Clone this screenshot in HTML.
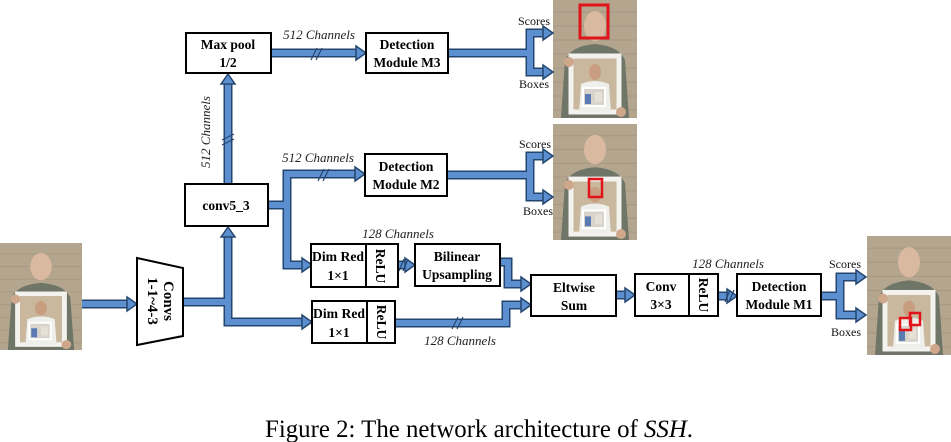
<!DOCTYPE html>
<html><head><meta charset="utf-8"><style>
html,body{margin:0;padding:0;background:#fff;}
svg{display:block;}
.b{font-family:"Liberation Serif",serif;font-weight:bold;font-size:13.5px;fill:#000;}
.i{font-family:"Liberation Serif",serif;font-style:italic;font-size:13px;fill:#222;}
.s{font-family:"Liberation Serif",serif;font-size:12px;fill:#111;}
.o{fill:none;stroke:#24466e;stroke-width:9;stroke-linejoin:miter;}
.f{fill:none;stroke:#5b8fcf;stroke-width:6;stroke-linejoin:miter;}
.h{fill:#5b8fcf;stroke:#24466e;stroke-width:1.5;}
.bx{fill:#fff;stroke:#000;stroke-width:2;}
.sl{stroke:#24466e;stroke-width:1.2;}
</style></head><body>
<svg width="951" height="442" viewBox="0 0 951 442" xmlns="http://www.w3.org/2000/svg">
<defs>
<symbol id="ph" viewBox="0 0 84 118" preserveAspectRatio="none">
<rect width="84" height="118" fill="#b3a58e"/>
<g stroke="#9e907a" stroke-width="1" opacity=".6"><path d="M0 12H84M0 26H84M0 40H84M0 54H84M0 68H84M0 82H84M0 96H84M0 110H84"/></g>
<path d="M8 118 L12 60 Q18 46 42 44 Q66 46 72 60 L76 118Z" fill="#6f7668"/>
<ellipse cx="42" cy="26" rx="11" ry="15" fill="#d9b9a0"/>
<rect x="18" y="56" width="48" height="56" fill="#c9b89e" stroke="#f4f2ee" stroke-width="5"/>
<path d="M26 112 L28 84 Q42 78 56 84 L58 112Z" fill="#eeeeea"/>
<ellipse cx="42" cy="72" rx="6" ry="8" fill="#c99e80"/>
<rect x="30" y="88" width="22" height="18" fill="#d8d4cc" stroke="#fff" stroke-width="2"/>
<rect x="32" y="94" width="6" height="10" fill="#5a7ab4"/>
<rect x="42" y="92" width="7" height="10" fill="#e6e0d6"/>
<circle cx="16" cy="62" r="5" fill="#cfa88c"/><circle cx="68" cy="112" r="5" fill="#cfa88c"/>
</symbol>
</defs>

<use href="#ph" x="0" y="243" width="82" height="107"/>
<use href="#ph" x="553" y="0" width="84" height="118"/>
<rect x="580" y="5" width="28" height="33" fill="none" stroke="#e0141a" stroke-width="3"/>
<use href="#ph" x="553" y="124" width="84" height="116"/>
<rect x="589" y="179" width="13" height="18" fill="none" stroke="#e0141a" stroke-width="2.5"/>
<use href="#ph" x="867" y="236" width="84" height="119"/>
<rect x="900" y="318" width="11" height="12" fill="none" stroke="#e0141a" stroke-width="2.5"/>
<rect x="910" y="313" width="10" height="12" fill="none" stroke="#e0141a" stroke-width="2.5"/>

<g>
<path class="o" d="M82 304H129"/><path class="f" d="M82 304H129"/>
<path class="o" d="M183 302H228M228 236V322H303"/><path class="f" d="M183 302H228M228 236V322H303"/>
<path class="o" d="M228 184V83"/><path class="f" d="M228 184V83"/>
<path class="o" d="M271 53H357"/><path class="f" d="M271 53H357"/>
<path class="o" d="M448 53H530M544 33H530V72H544"/><path class="f" d="M448 53H530M544 33H530V72H544"/>
<path class="o" d="M268 205H287M356 174H287V265H303"/><path class="f" d="M268 205H287M356 174H287V265H303"/>
<path class="o" d="M447 175H530M544 156H530V197H544"/><path class="f" d="M447 175H530M544 156H530V197H544"/>
<path class="o" d="M398 265H406"/><path class="f" d="M398 265H406"/>
<path class="o" d="M500 262H508V284H522"/><path class="f" d="M500 262H508V284H522"/>
<path class="o" d="M395 323H506V305H522"/><path class="f" d="M395 323H506V305H522"/>
<path class="o" d="M616 295H626"/><path class="f" d="M616 295H626"/>
<path class="o" d="M718 296H728"/><path class="f" d="M718 296H728"/>
<path class="o" d="M821 296H840M857 277H840V315H857"/><path class="f" d="M821 296H840M857 277H840V315H857"/>
</g>
<g class="h">
<polygon points="127,297 137,304 127,311"/>
<polygon points="221,237 228,227 235,237"/>
<polygon points="221,84 228,74 235,84"/>
<polygon points="302,315 312,322 302,329"/>
<polygon points="356,46 366,53 356,60"/>
<polygon points="543,26 553,33 543,40"/><polygon points="543,65 553,72 543,79"/>
<polygon points="355,167 365,174 355,181"/>
<polygon points="302,258 312,265 302,272"/>
<polygon points="543,149 553,156 543,163"/><polygon points="543,190 553,197 543,204"/>
<polygon points="405,258 415,265 405,272"/>
<polygon points="521,277 531,284 521,291"/><polygon points="521,298 531,305 521,312"/>
<polygon points="625,288 635,295 625,302"/>
<polygon points="727,289 737,296 727,303"/>
<polygon points="856,270 866,277 856,284"/><polygon points="856,308 866,315 856,322"/>
</g>
<g class="sl">
<path d="M311 60L317 48M316 60L322 48"/>
<path d="M318 181L324 169M323 181L329 169"/>
<path d="M222 140L234 134M222 145L234 139"/>
<path d="M399 271L404 259M403 271L408 259"/>
<path d="M452 329L458 317M457 329L463 317"/>
<path d="M725 302L730 290M729 302L734 290"/>
</g>

<rect class="bx" x="186" y="33" width="85" height="40"/>
<text class="b" x="228" y="49" text-anchor="middle">Max pool</text>
<text class="b" x="228" y="67" text-anchor="middle">1/2</text>
<rect class="bx" x="366" y="33" width="82" height="40"/>
<text class="b" x="407" y="49" text-anchor="middle">Detection</text>
<text class="b" x="407" y="67" text-anchor="middle">Module M3</text>
<rect class="bx" x="185" y="184" width="83" height="42"/>
<text class="b" x="226" y="210" text-anchor="middle">conv5_3</text>
<rect class="bx" x="365" y="154" width="82" height="42"/>
<text class="b" x="406" y="171" text-anchor="middle">Detection</text>
<text class="b" x="406" y="189" text-anchor="middle">Module M2</text>
<polygon class="bx" points="137,258 183,268 183,336 137,345"/>
<text class="b" transform="translate(164,301) rotate(90)" text-anchor="middle" style="font-size:15px">Convs</text>
<text class="b" transform="translate(148,301) rotate(90)" text-anchor="middle" style="font-size:15px">1-1~4-3</text>

<rect class="bx" x="311" y="244" width="87" height="43"/>
<line x1="366" y1="244" x2="366" y2="287" stroke="#000" stroke-width="2"/>
<text class="b" x="338" y="261" text-anchor="middle" textLength="52" lengthAdjust="spacingAndGlyphs">Dim Red</text>
<text class="b" x="338" y="280" text-anchor="middle">1×1</text>
<text class="b" transform="translate(376,266) rotate(90)" text-anchor="middle">ReLU</text>
<rect class="bx" x="415" y="244" width="85" height="42"/>
<text class="b" x="457" y="261" text-anchor="middle">Bilinear</text>
<text class="b" x="457" y="279" text-anchor="middle">Upsampling</text>
<rect class="bx" x="312" y="301" width="83" height="42"/>
<line x1="367" y1="301" x2="367" y2="343" stroke="#000" stroke-width="2"/>
<text class="b" x="339" y="318" text-anchor="middle" textLength="52" lengthAdjust="spacingAndGlyphs">Dim Red</text>
<text class="b" x="339" y="337" text-anchor="middle">1×1</text>
<text class="b" transform="translate(377,322) rotate(90)" text-anchor="middle">ReLU</text>

<rect class="bx" x="531" y="275" width="85" height="41"/>
<text class="b" x="574" y="292" text-anchor="middle">Eltwise</text>
<text class="b" x="574" y="310" text-anchor="middle">Sum</text>
<rect class="bx" x="635" y="274" width="83" height="42"/>
<line x1="689" y1="274" x2="689" y2="316" stroke="#000" stroke-width="2"/>
<text class="b" x="661" y="291" text-anchor="middle">Conv</text>
<text class="b" x="661" y="309" text-anchor="middle">3×3</text>
<text class="b" transform="translate(699,295) rotate(90)" text-anchor="middle">ReLU</text>
<rect class="bx" x="737" y="274" width="84" height="42"/>
<text class="b" x="779" y="291" text-anchor="middle">Detection</text>
<text class="b" x="779" y="309" text-anchor="middle">Module M1</text>

<text class="i" x="319" y="39" text-anchor="middle">512 Channels</text>
<text class="i" x="318" y="162" text-anchor="middle">512 Channels</text>
<text class="i" transform="translate(210,132) rotate(-90)" text-anchor="middle">512 Channels</text>
<text class="i" x="398" y="238" text-anchor="middle">128 Channels</text>
<text class="i" x="460" y="345" text-anchor="middle">128 Channels</text>
<text class="i" x="728" y="268" text-anchor="middle">128 Channels</text>
<text class="s" x="534" y="25" text-anchor="middle">Scores</text>
<text class="s" x="534" y="88" text-anchor="middle">Boxes</text>
<text class="s" x="535" y="148" text-anchor="middle">Scores</text>
<text class="s" x="538" y="215" text-anchor="middle">Boxes</text>
<text class="s" x="845" y="268" text-anchor="middle">Scores</text>
<text class="s" x="846" y="336" text-anchor="middle">Boxes</text>

<text x="479" y="437" text-anchor="middle" textLength="428" lengthAdjust="spacingAndGlyphs" style="font-family:'Liberation Serif',serif;font-size:25px;fill:#000">Figure 2: The network architecture of <tspan font-style="italic">SSH</tspan>.</text>
</svg>
</body></html>
